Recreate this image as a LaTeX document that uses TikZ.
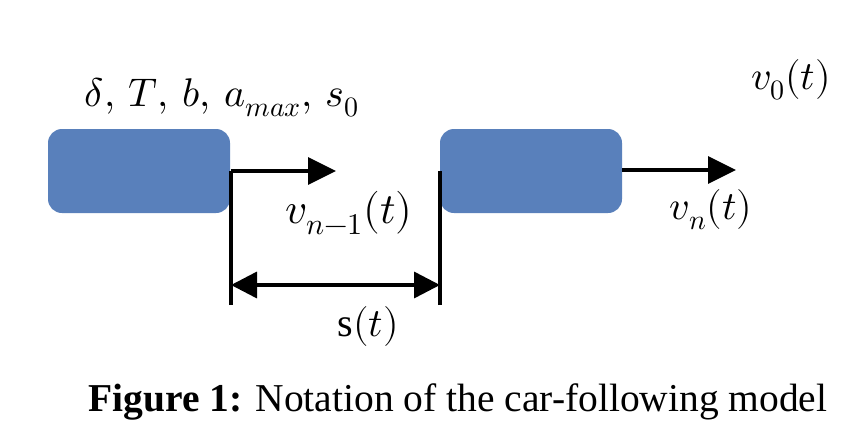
\documentclass[tikz,border=0pt]{standalone}
\usepackage{fontspec}
\usepackage{unicode-math}
\setmainfont{Liberation Serif}
\setmathfont{Latin Modern Math}
\usetikzlibrary{arrows.meta}
\definecolor{carblue}{RGB}{89,128,187}
\tikzset{
  car/.style={fill=carblue, draw=none, rounded corners=14pt},
  bar/.style={line width=3.5pt, black},
  arr/.style={bar, -{Triangle[length=28pt,width=27pt]}},
  darr/.style={bar, {Triangle[length=26pt,width=26pt]}-{Triangle[length=26pt,width=26pt]}},
  lab/.style={inner sep=0pt, font=\fontsize{40}{46}\selectfont},
}
\begin{document}
\begin{tikzpicture}[x=1pt,y=-1pt]
\useasboundingbox (0,0) rectangle (860,442);
\fill[white] (0,0) rectangle (860,442);
% cars
\path[car] (48,129) rectangle (230,213);
\path[car] (440,129) rectangle (622,213);
\coordinate (c1) at (231,171);
\coordinate (c1b) at (231,305);
\coordinate (t1) at (336,171);
\coordinate (c2) at (440,171);
\coordinate (c2b) at (440,305);
\coordinate (r2) at (622,170);
\coordinate (t2) at (736,170);
\coordinate (dl) at (231,285);
\coordinate (dr) at (440,285);
\draw[bar] (c1b) -- (c1);
\draw[arr] (c1) -- (t1);
\draw[bar] (c2b) -- (c2);
\draw[arr] (r2) -- (t2);
\draw[darr] (dl) -- (dr);
% labels
\node[lab] (params) at (222,98) {$\delta,\,T,\,b,\,a_{max},\,s_0$};
\node[lab] (v0) at (791,80) {$v_0(t)$};
\node[lab, font=\fontsize{43}{48}\selectfont] (vn1) at (349,213) {$v_{n-1}(t)$};
\node[lab] (vn) at (711,210) {$v_n(t)$};
\node[lab] (s) at (368,326) {$\mathrm{s}(t)$};
\node[inner sep=0pt, font=\fontsize{39.5}{46}\selectfont] (cap) at (458,402) {\textbf{Figure 1:} Notation of the car-following model};
\end{tikzpicture}
\end{document}
